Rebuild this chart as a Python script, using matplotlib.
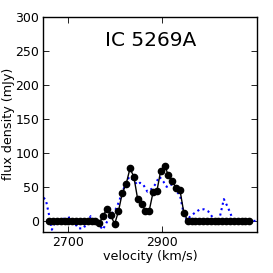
import matplotlib
matplotlib.use("Agg")
import matplotlib.pyplot as plt

# velocity channels (km/s) and measured flux (mJy)
velocidad = [2660.3, 2668.5, 2676.7, 2684.9, 2693.1, 2701.3, 2709.5, 2717.7,
             2725.9, 2734.1, 2742.3, 2750.5, 2758.7, 2766.9, 2775.1, 2783.3,
             2791.5, 2799.7, 2807.9, 2816.1, 2824.3, 2832.5, 2840.7, 2848.9,
             2857.1, 2865.3, 2873.5, 2881.7, 2889.9, 2898.1, 2906.3, 2914.5,
             2922.7, 2930.9, 2939.1, 2947.3, 2955.5, 2963.7, 2971.9, 2980.1,
             2988.3, 2996.5, 3004.7, 3012.9, 3021.1, 3029.3, 3037.5, 3045.7,
             3053.9, 3062.1, 3070.3, 3078.5, 3086.7]
flujo = [0, 0, 0, 0, 0, 0, 0, 0, 0, 0, 0, 0, 0, -3, 7, 18, 9, -5, 14, 41,
         54, 77, 65, 32, 25, 15, 15, 42, 44, 74, 81, 67, 59, 48, 45, 12,
         0, 0, 0, 0, 0, 0, 0, 0, 0, 0, 0, 0, 0, 0, 0, 0, 0]

# second spectrum (dotted blue)
vel_ref = [2648.2, 2653.2, 2662.4, 2666.0, 2673.0, 2683.7, 2694.3, 2705.0,
           2712.1, 2722.7, 2733.3, 2741.8, 2748.9, 2758.2, 2765.2, 2774.5,
           2783.0, 2793.6, 2800.7, 2807.8, 2815.6, 2824.1, 2831.2, 2839.7,
           2848.2, 2853.9, 2861.0, 2869.5, 2878.7, 2885.8, 2895.0, 2903.5,
           2910.6, 2919.1, 2926.2, 2931.9, 2939.0, 2946.1, 2953.2, 2961.7,
           2970.9, 2981.6, 2990.1, 2999.3, 3007.8, 3017.0, 3024.1, 3032.6,
           3041.8, 3052.5, 3061.0, 3070.2, 3080.9, 3102.8]
flujo_ref = [34, 31, 1, -13, -3, 1, 4, 5, -1, -11, -11, -2, 7, 1, -4, -13,
             -2, 11, 15, 26, 41, 56, 65, 60, 53, 56, 53, 43, 47, 53, 65, 58,
             50, 54, 50, 43, 38, 14, 1, 7, 12, 17, 17, 14, 6, -2, 6, 32,
             19, 1, -2, -1, 0, 0]

fig = plt.figure(figsize=(2.73, 2.73), dpi=100)
ax = fig.add_axes([0.159, 0.151, 0.782, 0.788])

ax.plot(vel_ref, flujo_ref, color="#0000ff", linestyle=":", linewidth=1.5)
ax.plot(velocidad, flujo, color="black", linewidth=1, marker="o",
        markersize=4.5)

ax.set_xlim(2648, 3103)
ax.set_ylim(-16, 300)
ax.set_xticks([2700, 2900])
ax.set_yticks([0, 50, 100, 150, 200, 250, 300])
ax.tick_params(direction="in", top=True, right=True, labelsize=9,
               length=4, width=0.6, pad=3)
for s in ax.spines.values():
    s.set_linewidth(1)

ax.set_xlabel("velocity (km/s)", fontsize=9.2, labelpad=1)
ax.set_ylabel("flux density (mJy)", fontsize=9.2, labelpad=0)
ax.text(0.5, 0.888, "IC 5269A", transform=ax.transAxes, ha="center",
        va="center", fontsize=14.5)

fig.savefig("out.png", dpi=100)
